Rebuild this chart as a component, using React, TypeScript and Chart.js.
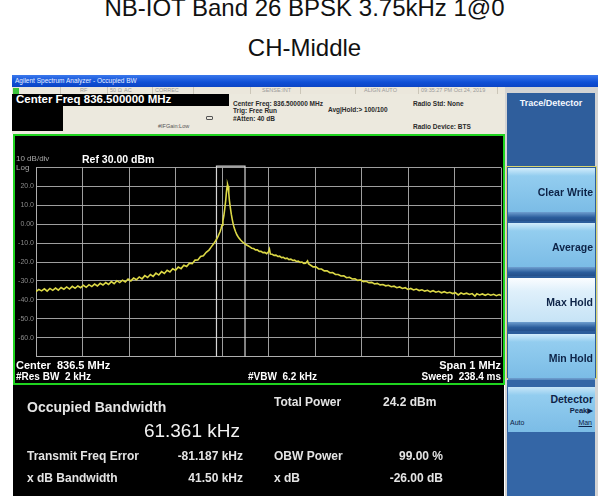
import React, { useEffect, useRef } from 'react';
import { Chart, registerables } from 'chart.js';

Chart.register(...registerables);

// ---- data (frequency offset from 836.5 MHz in kHz, level in dBm) ----
const traceFreq: number[] = [
  -500, -494, -488, -482, -476, -470, -464, -458, -452, -446, -440, -434, -428, -422, -416, -410,
  -404, -398, -392, -386, -380, -374, -368, -362, -356, -350, -344, -338, -332, -326, -320, -314,
  -308, -302, -296, -290, -284, -278, -272, -266, -260, -254, -248, -242, -236, -230, -224, -218,
  -212, -206, -200, -194, -188, -182, -176, -170, -164, -158, -152, -146, -140, -134, -128, -123,
  -118, -114, -110, -107, -104, -102, -100, -98, -96, -94, -92, -90.5, -89, -88, -87, -85.5,
  -84, -82, -80, -78, -76, -74, -71, -68, -64, -60, -56, -52, -48, -44, -40, -36,
  -32, -28, -24, -20, -16, -12, -8, -4, 0, 2, 4, 8, 12, 16, 20, 24,
  28, 32, 36, 40, 44, 48, 52, 56, 60, 64, 68, 72, 76, 80, 84, 86,
  90, 96, 102, 108, 114, 120, 126, 132, 138, 144, 150, 156, 162, 168, 174, 180,
  186, 192, 198, 204, 210, 216, 222, 228, 234, 240, 246, 252, 258, 264, 270, 276,
  282, 288, 294, 300, 306, 312, 318, 324, 330, 336, 342, 348, 354, 360, 366, 372,
  378, 384, 390, 396, 402, 408, 414, 420, 426, 432, 438, 444, 448, 454, 460, 466,
  472, 478, 484, 490, 496, 500,
];
const traceLevel: number[] = [
  -35.6, -34.5, -35.3, -34.2, -35.4, -34.0, -35.0, -33.8, -34.9, -33.5, -34.4, -33.2, -34.3, -32.9, -33.9, -32.7,
  -33.6, -32.3, -33.4, -32.0, -33.0, -31.7, -32.7, -31.3, -32.2, -30.9, -31.9, -30.4, -31.5, -29.9, -30.9, -29.6,
  -30.6, -29.0, -30.0, -28.5, -29.4, -27.9, -28.9, -27.2, -28.2, -26.6, -27.6, -25.9, -26.9, -25.1, -26.1, -24.4,
  -25.3, -23.6, -24.4, -22.7, -23.5, -21.7, -22.4, -20.6, -20.9, -19.0, -18.9, -17.1, -16.7, -14.9, -13.7, -12.0,
  -10.4, -8.9, -7.3, -5.6, -3.9, -2.3, -0.5, 1.8, 4.6, 8.3, 12.6, 16.8, 20.0, 21.0, 20.1, 16.5,
  12.4, 8.6, 5.3, 2.6, 0.2, -1.8, -3.9, -5.6, -7.2, -8.4, -9.4, -10.1, -10.9, -11.4, -12.0, -12.7,
  -12.9, -13.6, -13.6, -14.4, -14.3, -15.0, -14.9, -15.6, -14.6, -13.2, -15.8, -15.9, -16.5, -16.4, -17.1, -16.9,
  -17.7, -17.5, -18.2, -18.0, -18.7, -18.5, -19.2, -19.0, -19.7, -19.5, -20.2, -20.0, -20.7, -20.6, -19.4, -20.9,
  -21.6, -22.6, -22.6, -23.7, -23.7, -24.7, -24.7, -25.7, -25.6, -26.6, -26.6, -27.4, -27.3, -28.3, -28.1, -29.0,
  -28.9, -29.7, -29.5, -30.4, -30.2, -30.9, -30.8, -31.6, -31.3, -32.1, -31.9, -32.6, -32.3, -33.1, -32.8, -33.6,
  -33.2, -34.0, -33.6, -34.5, -34.0, -34.8, -34.3, -35.1, -34.7, -35.4, -35.0, -35.8, -35.2, -36.0, -35.5, -36.3,
  -35.7, -36.4, -36.0, -36.7, -36.2, -37.4, -36.4, -37.0, -36.5, -37.2, -36.7, -38.0, -36.8, -37.4, -36.9, -37.6,
  -37.0, -37.6, -37.1, -37.8, -37.2, -37.7,
];
// occupied-bandwidth marker edges (kHz offset)
const obwEdges: number[] = [-111.87, -50.51];
const obwTop = 30.7;
const spanKHz: number[] = [-500, 500];
const yRange: number[] = [-70, 30];
const yTickValues: number[] = [30, 20, 10, 0, -10, -20, -30, -40, -50, -60, -70];
const yTickLabels: string[] = ['', '20.0', '10.0', '0.00', '-10.0', '-20.0', '-30.0', '-40.0', '-50.0', '-60.0', ''];

const titleLines: string[] = ['NB-IOT Band 26 BPSK 3.75kHz 1@0', 'CH-Middle'];
const statusItems: [number, string][] = [
  [80, 'RF'], [110, '50 Ω'], [124, 'AC'], [155, 'CORREC'], [262, 'SENSE:INT'], [364, 'ALIGN AUTO'], [421, '09:35:27 PM Oct 24, 2019'],
];
const softKeys: string[] = ['Clear Write', 'Average', 'Max Hold', 'Min Hold'];

const FONT = '"Liberation Sans", Arial, "DejaVu Sans", sans-serif';
const GRID = 'rgba(175,175,175,0.9)';

type TP = { x: number; y: number; s: number; c?: string; b?: boolean; a?: 'l' | 'r' | 'c'; t: string; u?: boolean };
const Tx = ({ x, y, s, c = '#fff', b = false, a = 'l', t, u }: TP) => {
  const st: React.CSSProperties = {
    position: 'absolute', top: y - s / 2, fontSize: s, lineHeight: `${s}px`, color: c,
    fontWeight: b ? 700 : 400, whiteSpace: 'pre', fontFamily: FONT,
    textDecoration: u ? 'underline' : undefined,
  };
  if (a === 'l') st.left = x;
  else if (a === 'r') { st.left = x - 400; st.width = 400; st.textAlign = 'right'; }
  else { st.left = x - 400; st.width = 800; st.textAlign = 'center'; }
  return <div style={st}>{t}</div>;
};

const Bx = ({ x, y, w, h, bg, st }: { x: number; y: number; w: number; h: number; bg: string; st?: React.CSSProperties }) => (
  <div style={{ position: 'absolute', left: x, top: y, width: w, height: h, background: bg, boxSizing: 'border-box', ...st }} />
);

function Plot() {
  const ref = useRef<HTMLCanvasElement | null>(null);
  useEffect(() => {
    if (!ref.current) return;
    const chart = new Chart(ref.current, {
      type: 'line',
      data: {
        datasets: [
          {
            data: traceFreq.map((f, i) => ({ x: f, y: traceLevel[i] })),
            borderColor: '#dcd846',
            borderWidth: 1.6,
            pointRadius: 0,
            tension: 0,
          },
          {
            data: [
              { x: obwEdges[0], y: yRange[0] },
              { x: obwEdges[0], y: obwTop },
              { x: obwEdges[1], y: obwTop },
              { x: obwEdges[1], y: yRange[0] },
            ],
            borderColor: '#d6d6d6',
            borderWidth: 1.2,
            pointRadius: 0,
            tension: 0,
            clip: false,
          },
        ],
      },
      options: {
        responsive: false,
        animation: false,
        devicePixelRatio: 1,
        layout: { padding: { top: 31.5, right: 2, bottom: 26.5, left: 0 } },
        plugins: { legend: { display: false }, tooltip: { enabled: false }, title: { display: false } },
        scales: {
          x: {
            type: 'linear', min: spanKHz[0], max: spanKHz[1],
            ticks: { display: false, stepSize: 100 },
            grid: { color: GRID, drawTicks: false, lineWidth: 1 },
            border: { display: true, color: GRID },
            afterFit: (s: any) => { s.height = 0; },
          },
          y: {
            type: 'linear', min: yRange[0], max: yRange[1],
            ticks: {
              stepSize: 10, autoSkip: false, color: '#8a8a8a', padding: 2,
              font: { family: FONT, size: 7 },
              callback: (v: any) => {
                const i = yTickValues.indexOf(Number(v));
                return i >= 0 ? yTickLabels[i] : '';
              },
            },
            grid: { color: GRID, drawTicks: false, lineWidth: 1 },
            border: { display: true, color: GRID },
            afterFit: (s: any) => { s.width = 21; },
          },
        },
      },
    } as any);
    return () => chart.destroy();
  }, []);
  return <canvas ref={ref} width={488} height={247} style={{ position: 'absolute', left: 15, top: 136 }} />;
}

export default function App() {
  const btnTops = [168, 223, 278, 334];
  return (
    <div style={{ position: 'fixed', left: 0, top: 0, width: 609, height: 496, background: '#fff', overflow: 'hidden', fontFamily: FONT }}>
      {/* title */}
      <Tx x={304.5} y={7.5} s={24} c="#111" a="c" t={titleLines[0]} />
      <Tx x={304.5} y={47.5} s={24} c="#111" a="c" t={titleLines[1]} />

      {/* window chrome */}
      <Bx x={12} y={75} w={586} h={12} bg="linear-gradient(#3a78ec, #0f4fd6 60%, #0b44c4)" />
      <Tx x={15} y={81} s={6.5} c="#e8eeff" t="Agilent Spectrum Analyzer - Occupied BW" />
      <Bx x={505} y={87} w={93} h={409} bg="#d3d3d3" />
      <Bx x={12} y={87} w={493} h={7} bg="#ebe7dc" />
      <Bx x={13} y={87.5} w={6} h={6} bg="#3cc43c" />
      {[60, 107, 152, 193, 250, 300, 355, 418, 497].map((x) => (
        <Bx key={x} x={x} y={87} w={1} h={7} bg="#cbc6b8" />
      ))}
      {statusItems.map(([x, t]) => (
        <Tx key={t} x={x} y={90.5} s={5.5} c="#9a9a9a" t={t} />
      ))}

      {/* header */}
      <Bx x={12} y={94} w={493} h={40} bg="#ece9de" />
      <Bx x={12} y={94} w={217} h={12} bg="#000" />
      <Bx x={12} y={106} w={51} h={25} bg="#000" />
      <Tx x={16} y={100} s={11.5} b t="Center Freq 836.500000 MHz" />
      <Tx x={233} y={104} s={6.5} b c="#2a2a2a" t="Center Freq: 836.500000 MHz" />
      <Tx x={233} y={111.5} s={6.5} b c="#2a2a2a" t="Trig: Free Run" />
      <Tx x={233} y={119.5} s={6.5} b c="#2a2a2a" t="#Atten: 40 dB" />
      <Tx x={328} y={110} s={6.5} b c="#2a2a2a" t="Avg|Hold:> 100/100" />
      <Tx x={413} y={104} s={6.5} b c="#2a2a2a" t="Radio Std: None" />
      <Tx x={413} y={127} s={6.5} b c="#2a2a2a" t="Radio Device: BTS" />
      <Tx x={158} y={127} s={5.5} c="#555" t="#IFGain:Low" />
      <Bx x={206} y={116} w={7} h={4} bg="transparent" st={{ border: '1px solid #555', borderRadius: 1 }} />

      {/* plot */}
      <Bx x={13} y={134} w={492} h={251} bg="#000" st={{ border: '2px solid #1fd41f' }} />
      <Plot />
      <Tx x={16} y={159} s={8} c="#a8a8a8" t="10 dB/div" />
      <Tx x={82} y={159} s={10.5} b t="Ref 30.00 dBm" />
      <Tx x={16} y={167.5} s={8} c="#a8a8a8" t="Log" />
      <Tx x={16} y={365} s={11} b t="Center  836.5 MHz" />
      <Tx x={16} y={377} s={10} b t="#Res BW  2 kHz" />
      <Tx x={248} y={377} s={10} b t="#VBW  6.2 kHz" />
      <Tx x={501} y={365} s={11} b a="r" t="Span 1 MHz" />
      <Tx x={501} y={377} s={10} b a="r" t="Sweep  238.4 ms" />

      {/* measurement panel */}
      <Bx x={13} y={385} w={491} h={111} bg="#000" />
      <Tx x={27} y={407} s={14} b c="#e4e4e4" t="Occupied Bandwidth" />
      <Tx x={240} y={430} s={19} c="#f2f2f2" a="r" t="61.361 kHz" />
      <Tx x={274} y={402} s={12} b c="#e4e4e4" t="Total Power" />
      <Tx x={383} y={402} s={12} b c="#e4e4e4" t="24.2 dBm" />
      <Tx x={27} y={456} s={12} b c="#e4e4e4" t="Transmit Freq Error" />
      <Tx x={243} y={456} s={12} b c="#e4e4e4" a="r" t="-81.187 kHz" />
      <Tx x={274} y={456} s={12} b c="#e4e4e4" t="OBW Power" />
      <Tx x={443} y={456} s={12} b c="#e4e4e4" a="r" t="99.00 %" />
      <Tx x={27} y={478} s={12} b c="#e4e4e4" t="x dB Bandwidth" />
      <Tx x={243} y={478} s={12} b c="#e4e4e4" a="r" t="41.50 kHz" />
      <Tx x={274} y={478} s={12} b c="#e4e4e4" t="x dB" />
      <Tx x={443} y={478} s={12} b c="#e4e4e4" a="r" t="-26.00 dB" />

      {/* softkey panel */}
      <Bx x={507} y={93} w={88} h={73} bg="#2f5e9c" />
      <Tx x={551} y={103} s={9} b c="#f4f8ff" a="c" t="Trace/Detector" />
      <Bx x={506} y={166} w={91} h={213} bg="#2c5d9b" st={{ border: '1.5px solid #d9d572' }} />
      {softKeys.map((k, i) => {
        const top = btnTops[i];
        const light = i === 2;
        return (
          <React.Fragment key={k}>
            <Bx x={508} y={top} w={87} h={44}
              bg={light ? 'linear-gradient(#fbfdff, #dff0fb 30%, #c6e3f6)' : 'linear-gradient(#d2ecfb, #93cdef 18%, #7bbce6)'} />
            <Bx x={508} y={top + 44} w={87} h={9} bg="linear-gradient(#6f9fd0, #2b5d9c 60%, #244f8a)" />
            <Tx x={593} y={top + 24} s={10.5} b c="#0d2347" a="r" t={k} />
          </React.Fragment>
        );
      })}
      <Bx x={507} y={380} w={88} h={116} bg="#3466a6" />
      <Bx x={508} y={387} w={87} h={45} bg="linear-gradient(#c8e6f8, #93cdef 18%, #7bbce6)" />
      <Tx x={593} y={399} s={10.5} b c="#0d2347" a="r" t="Detector" />
      <Tx x={593} y={411} s={7.5} b c="#0d2347" a="r" t="Peak▶" />
      <Tx x={510} y={422} s={7} c="#0d2347" t="Auto" />
      <Tx x={592} y={422} s={7} c="#0d2347" a="r" u t="Man" />
    </div>
  );
}
